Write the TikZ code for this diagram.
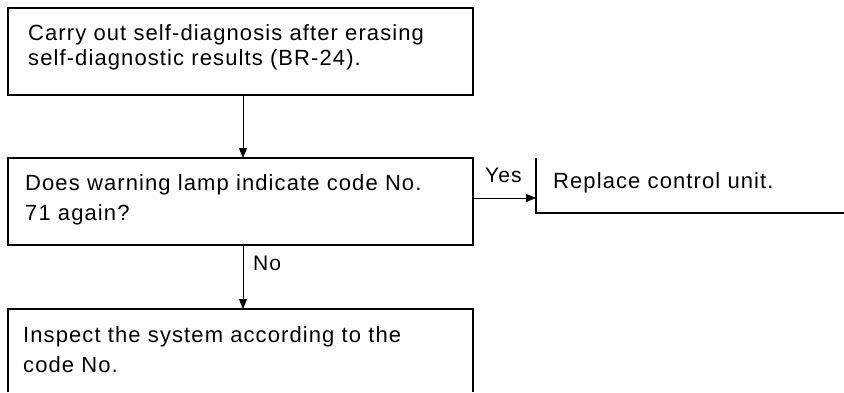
\documentclass[tikz,border=0pt]{standalone}
\usepackage{fontspec}
\setmainfont[LetterSpace=5]{Liberation Sans}
\usetikzlibrary{arrows.meta}
\begin{document}
\begin{tikzpicture}[x=1pt,y=1pt,
  boxline/.style={line width=1.4pt},
  conn/.style={line width=0.9pt,-{Triangle[length=10pt,width=8pt]}},
  frame/.style={draw=none,rectangle,inner sep=0pt,outer sep=0pt,anchor=south west},
  txt/.style={inner sep=0pt,anchor=base west,font=\fontsize{22}{25}\selectfont},
  lbl/.style={inner sep=0pt,anchor=base west,font=\fontsize{21}{25}\selectfont}]
\useasboundingbox (0,0) rectangle (844,392);
% frames (positions)
\node[frame,minimum width=465pt,minimum height=87pt] (b1) at (8,297) {};
\node[frame,minimum width=465pt,minimum height=87pt] (b2) at (8,147) {};
\node[frame,minimum width=465pt,minimum height=83pt] (b3) at (8,0) {};
\node[frame,minimum width=308pt,minimum height=55pt] (b4) at (536,179) {};
% visible edges
\draw[boxline] (b1.south west) rectangle (b1.north east);
\draw[boxline] (b2.south west) rectangle (b2.north east);
\draw[boxline] (b3.south west) -- (b3.north west) -- (b3.north east) -- (b3.south east);
\draw[boxline] (b4.north west) -- (b4.south west) -- (b4.south east);
% texts
\node[txt] (t1) at (28,352) {\parbox[t]{440pt}{\raggedright Carry out self-diagnosis after erasing\\self-diagnostic results (BR-24).}};
\node[txt] (t2) at (25,202) {\parbox[t]{440pt}{\raggedright\baselineskip=30pt Does warning lamp indicate code No.\\71 again?}};
\node[txt] (t3) at (23,50) {\parbox[t]{440pt}{\raggedright\baselineskip=30pt Inspect the system according to the\\code No.}};
\node[txt] (t4) at (553,204) {Replace control unit.};
% connectors
\coordinate (a1s) at (243,297);
\coordinate (a1e) at (243,234);
\coordinate (a2s) at (243,147);
\coordinate (a2e) at (243,83);
\coordinate (a3s) at (473,194);
\coordinate (a3e) at (536,194);
\draw[conn] (a1s) -- (a1e);
\draw[conn] (a2s) -- (a2e);
\draw[conn] (a3s) -- (a3e);
\node[lbl] (yes) at (485,210) {Yes};
\node[lbl] (no) at (253,122) {No};
\end{tikzpicture}
\end{document}
